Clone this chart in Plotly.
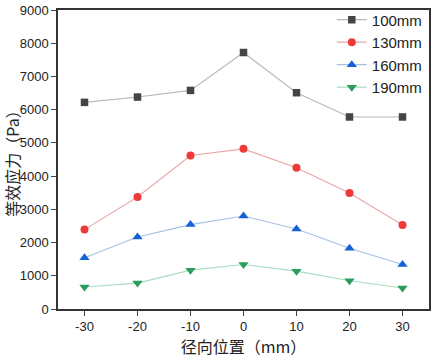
import plotly.graph_objects as go

x_pos = [-30, -20, -10, 0, 10, 20, 30]
x_labels = ["-30", "-20", "-10", "0", "10", "20", "30"]
s100 = [6220, 6380, 6580, 7720, 6510, 5780, 5780]
s130 = [2390, 3370, 4620, 4820, 4250, 3490, 2530]
s160 = [1540, 2170, 2540, 2800, 2410, 1830, 1340]
s190 = [660, 780, 1170, 1340, 1140, 850, 630]
names = ["100mm", "130mm", "160mm", "190mm"]

series = [s100, s130, s160, s190]
marker_colors = ["#454545", "#f03a3a", "#1562d6", "#2a9d5c"]
line_colors = ["#b8b8b8", "#eaa6a6", "#a6c0e4", "#a8dcbf"]
symbols = ["square", "circle", "triangle-up", "triangle-down"]
sizes = [7.5, 8, 9, 9]

fig = go.Figure()
for ys, nm, mc, lc, sym, sz in zip(series, names, marker_colors, line_colors, symbols, sizes):
    fig.add_trace(go.Scatter(
        x=x_pos, y=ys, name=nm, mode="lines+markers",
        line=dict(color=lc, width=1.1),
        marker=dict(symbol=sym, color=mc, size=sz),
    ))

fig.update_layout(
    width=434, height=360,
    margin=dict(l=57, r=3, t=8, b=51),
    paper_bgcolor="white", plot_bgcolor="white",
    font=dict(family="Liberation Sans, Arial, sans-serif", size=13, color="#222"),
    showlegend=True,
    legend=dict(x=0.738, xanchor="left", y=1.022, yanchor="top",
                bgcolor="rgba(0,0,0,0)", font=dict(size=15),
                tracegroupgap=0, itemwidth=30),
    xaxis=dict(range=[-35, 35], tickvals=x_pos, ticktext=x_labels, ticks="outside", ticklen=5,
               showline=True, linecolor="#333", linewidth=1.5, mirror=True,
               showgrid=False, zeroline=False,
               title=dict(text="径向位置（mm）", font=dict(family="Noto Sans CJK SC", size=16), standoff=6)),
    yaxis=dict(range=[0, 9000], dtick=1000, ticks="outside", ticklen=5,
               showline=True, linecolor="#333", linewidth=1.5, mirror=True,
               showgrid=False, zeroline=False,
               title=dict(text="等效应力（Pa）", font=dict(family="Noto Sans CJK SC", size=16), standoff=6)),
)

fig.write_html("out.html", config={"displayModeBar": False},
               post_script="document.body.style.margin='0';")
